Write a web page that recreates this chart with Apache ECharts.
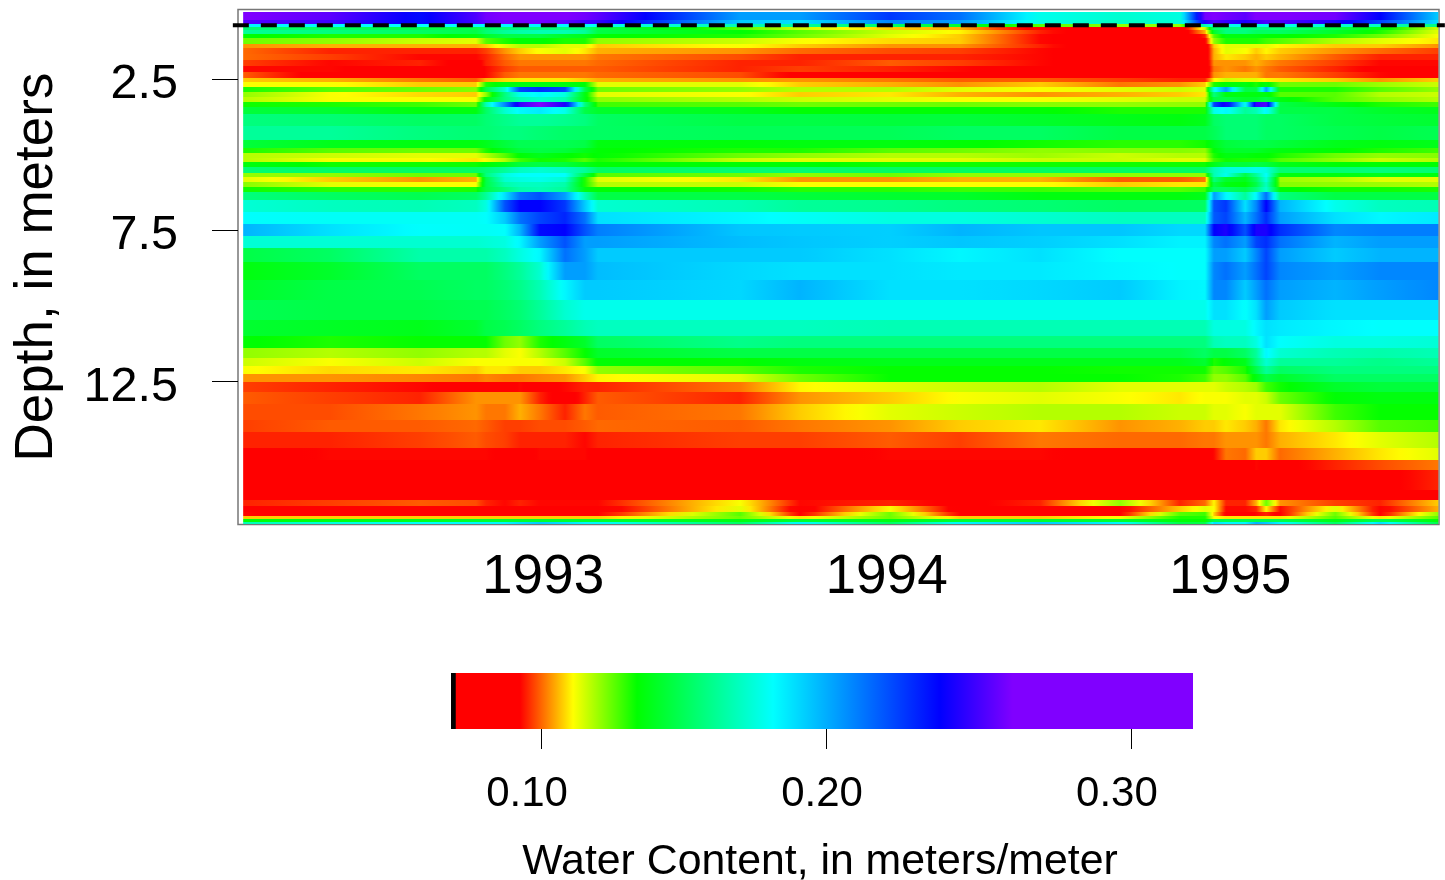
<!DOCTYPE html>
<html><head><meta charset="utf-8">
<style>html,body{margin:0;padding:0;background:#fff}#c{width:1445px;height:880px}</style>
<script src="https://cdn.jsdelivr.net/npm/echarts@6/dist/echarts.min.js"></script>
</head><body><div id="c"></div>
<script>
const yearLabels = [1993, 1994, 1995];
const depthLabels = [2.5, 7.5, 12.5];
const scaleLabels = [0.10, 0.20, 0.30];
const scaleTicks = [0.1047, 0.2014, 0.3047];
const scaleRange = [0.0742, 0.3258];
const scaleValues = [0.0742, 0.0757, 0.0758, 0.0976, 0.1156, 0.1373, 0.1834, 0.2400, 0.2647, 0.3258];
const scaleColors = ['#000000', '#000000', '#ff0000', '#ff0000', '#ffff00', '#00ff00', '#00ffff', '#0000ff', '#8000ff', '#8000ff'];
const waterTableDepth = 0.71;
const waterTableYears = [1992.097, 1995.625];
const timeNodes = [1992.127,1992.380,1992.642,1992.805,1992.834,1992.889,1992.933,1992.991,1993.064,1993.122,1993.160,1993.574,1993.748,1994.010,1994.214,1994.447,1994.680,1994.854,1994.927,1994.953,1994.988,1995.044,1995.076,1995.105,1995.146,1995.306,1995.437,1995.606];
const depthEdges = [0.27,0.54,0.67,0.77,0.87,1.00,1.13,1.33,1.46,1.66,1.86,2.06,2.26,2.46,2.59,2.75,2.92,3.09,3.25,3.42,3.65,4.04,4.51,4.77,4.94,5.10,5.23,5.40,5.60,5.73,5.90,6.06,6.23,6.49,6.89,7.29,7.68,8.08,8.54,9.14,9.80,10.46,10.99,11.39,11.72,11.98,12.25,12.51,12.84,13.24,13.77,14.16,14.69,15.09,15.42,16.08,16.41,16.61,16.81,16.94,17.04,17.14,17.21];
// water content, thousandths of a meter per meter: one row per depth band, one value per time node
const waterContent = [
[265,258,238,255,262,265,265,265,265,262,258,205,205,228,215,180,175,178,262,265,262,258,265,265,265,262,240,195],
[256,252,238,252,258,262,262,262,258,252,250,195,190,210,205,178,172,176,245,255,250,245,250,255,255,245,225,190],
[185,185,183,185,185,185,185,185,185,185,180,170,165,155,145,130,125,125,170,180,180,180,180,180,180,175,172,160],
[158,155,150,150,155,158,160,160,160,160,150,130,120,112,110,94,90,90,120,155,160,160,160,160,160,150,140,120],
[165,160,155,150,158,165,168,170,170,165,150,138,130,120,115,100,90,90,110,145,160,160,155,155,155,145,135,118],
[138,135,135,140,145,150,150,150,145,142,138,135,128,118,112,98,90,88,100,130,140,140,140,138,138,135,128,116],
[128,125,120,118,130,135,138,138,135,135,125,120,116,113,112,98,90,88,95,125,135,135,135,132,130,122,118,114],
[108,110,110,110,112,118,122,122,118,118,112,116,112,108,108,100,90,88,90,112,118,118,118,118,115,112,112,108],
[105,100,100,100,102,108,112,116,118,114,110,108,105,103,102,98,88,88,90,110,118,116,112,115,112,108,105,102],
[105,102,98,98,100,105,108,108,108,108,106,103,100,100,100,98,88,88,90,110,114,112,110,112,110,104,100,100],
[102,98,100,95,100,104,106,106,106,106,105,100,100,104,102,98,90,90,90,108,108,108,110,108,106,102,98,98],
[98,98,94,95,98,102,104,104,104,104,104,100,102,100,98,96,90,90,90,106,108,106,108,106,104,100,96,94],
[104,94,94,92,98,104,106,106,106,106,105,103,96,96,95,94,90,90,90,108,110,110,110,106,106,102,98,96],
[112,110,106,104,110,113,114,114,114,112,110,108,108,106,104,104,102,100,100,115,120,118,118,115,114,112,108,112],
[116,116,112,112,135,140,140,140,140,138,118,118,112,110,108,112,106,108,112,135,138,140,135,140,128,128,124,120],
[135,130,128,126,150,175,225,230,225,150,128,125,122,122,118,116,118,120,118,180,205,150,150,205,135,135,130,125],
[125,116,113,112,125,160,180,185,178,140,118,116,112,114,110,108,110,112,114,160,140,140,140,140,130,130,122,120],
[122,116,116,116,140,160,170,175,170,140,125,122,120,118,116,116,118,120,120,150,150,145,145,150,140,130,125,122],
[136,135,132,128,170,210,250,265,245,160,132,130,128,128,128,126,125,125,125,225,245,180,250,255,150,140,135,132],
[148,146,140,140,155,175,185,188,180,150,145,142,138,138,138,138,135,135,135,180,185,165,170,185,150,150,145,142],
[160,158,155,155,158,162,165,165,163,160,155,150,150,148,148,145,142,140,142,155,158,158,158,155,155,150,148,146],
[165,165,160,158,158,160,160,158,156,155,155,153,153,153,155,155,150,150,150,153,158,158,158,155,155,152,150,152],
[148,142,140,140,142,148,152,152,152,150,140,139,140,140,138,136,134,134,136,142,148,150,150,150,148,142,140,142],
[135,130,128,128,135,142,148,150,148,142,138,135,135,130,128,125,126,126,125,138,145,145,145,142,140,138,135,132],
[122,120,118,118,122,130,138,142,138,136,138,128,125,122,122,124,120,122,122,135,140,140,138,138,135,128,125,126],
[122,116,116,114,116,122,132,136,135,130,135,120,118,118,118,120,120,118,118,132,136,135,135,135,130,125,120,122],
[140,136,136,136,138,142,148,150,148,142,138,138,138,136,136,136,136,136,136,142,148,148,150,148,142,138,138,138],
[158,156,155,155,158,165,172,175,172,165,155,158,158,155,155,155,155,155,155,170,178,178,180,178,158,158,160,158],
[125,125,128,128,160,178,183,183,183,150,130,128,125,128,125,125,125,125,125,170,180,150,165,183,140,140,142,140],
[118,112,108,110,150,175,178,180,175,135,118,114,108,108,110,110,104,104,106,160,145,142,155,178,124,122,118,118],
[126,118,116,116,150,168,172,172,168,135,122,120,116,116,116,116,112,114,114,150,140,138,150,172,126,125,124,122],
[136,134,134,135,150,160,168,170,165,140,138,136,134,134,132,132,130,130,132,155,155,150,160,175,138,136,136,135],
[160,155,152,155,165,190,215,222,205,170,150,150,148,146,145,140,140,140,142,205,185,165,185,215,160,150,150,150],
[176,172,170,172,178,222,240,240,228,195,175,170,165,163,160,158,155,155,155,222,228,190,210,240,200,180,172,170],
[183,182,182,182,183,195,215,225,232,215,190,185,182,178,178,175,172,172,172,220,225,200,215,230,205,190,185,188],
[200,190,183,182,182,183,200,238,240,222,212,196,195,194,200,196,196,192,192,240,245,222,245,245,230,210,212,212],
[176,176,175,175,176,178,185,205,222,205,205,198,196,194,196,194,190,186,186,210,215,205,225,230,215,200,205,205],
[150,155,168,168,168,172,178,185,215,205,195,195,195,190,185,190,183,183,183,205,205,195,210,225,205,195,200,200],
[140,145,155,155,155,160,165,175,205,205,198,192,190,190,188,188,185,183,183,210,215,205,215,225,210,205,210,210],
[145,150,152,155,155,158,162,170,185,195,195,192,200,190,190,192,195,186,185,210,210,195,205,215,205,200,205,210],
[152,150,150,152,152,155,158,165,175,180,180,180,180,180,180,180,180,180,180,190,190,183,190,205,195,190,190,190],
[146,144,142,146,150,152,155,160,165,170,172,172,172,170,170,170,170,170,170,178,178,178,185,190,188,185,183,183],
[138,135,137,137,137,128,125,135,140,145,155,162,160,160,160,160,160,160,160,170,172,172,178,190,183,178,178,176],
[125,122,125,122,122,118,116,122,130,137,145,150,150,150,150,150,150,150,155,150,150,155,165,185,175,170,168,170],
[120,116,120,116,116,116,116,116,120,130,138,137,140,142,142,142,142,142,146,135,138,142,160,175,165,165,162,165],
[116,113,114,112,114,114,112,112,114,116,125,130,135,137,137,137,136,136,136,128,130,135,150,165,155,160,160,160],
[108,108,107,106,107,106,106,107,108,112,115,118,128,137,137,137,137,135,132,125,125,130,140,150,145,155,155,155],
[102,100,98,96,96,96,98,96,98,100,100,106,115,118,120,122,118,118,118,118,120,122,124,132,136,145,148,148],
[104,102,100,108,108,108,108,100,94,100,104,100,108,112,116,118,116,114,116,116,116,118,118,120,128,138,140,140],
[103,103,106,108,106,106,110,106,100,106,104,106,112,118,120,122,122,120,120,118,118,116,118,118,118,132,137,137],
[102,104,104,105,104,102,102,103,103,104,105,104,106,108,112,114,108,110,112,112,114,112,110,106,114,122,130,132],
[100,100,102,104,103,102,100,100,100,98,100,102,102,104,102,106,105,105,106,106,108,108,108,106,110,114,118,122],
[96,98,98,98,98,97,96,98,98,98,96,96,96,98,98,98,96,96,96,98,106,105,112,112,105,110,114,118],
[94,94,94,94,94,94,94,94,94,94,94,94,94,94,94,94,94,94,94,94,94,94,98,97,96,100,103,106],
[94,94,94,94,94,94,94,94,94,94,94,94,94,94,94,94,94,94,94,94,94,94,94,94,95,96,96,100],
[94,94,94,94,94,94,94,94,94,94,94,94,94,94,94,94,94,94,94,94,94,94,94,94,94,94,95,96],
[100,102,104,103,100,98,100,98,98,98,98,116,98,100,96,100,125,100,105,115,100,100,110,128,108,102,100,112],
[94,94,94,94,94,94,94,94,94,94,94,118,94,116,94,96,96,112,118,116,98,98,100,115,98,118,96,110],
[98,96,96,96,96,96,96,96,96,96,96,130,96,128,96,96,96,130,132,112,96,96,98,100,96,128,96,125],
[112,112,112,112,112,112,112,112,112,112,112,128,114,128,112,112,116,135,135,116,114,114,114,114,114,130,114,130],
[138,140,142,145,145,145,145,145,145,145,145,140,145,140,145,145,145,138,137,150,150,150,150,150,150,140,150,138],
[170,178,183,185,185,185,190,195,190,185,185,155,185,155,185,195,185,150,150,190,185,185,200,195,185,155,190,150]
];

function colorOf(v){
  if (v <= scaleValues[0]) return scaleColors[0];
  for (let i = 1; i < scaleValues.length; i++) {
    if (v <= scaleValues[i]) {
      const t = (v - scaleValues[i-1]) / (scaleValues[i] - scaleValues[i-1]);
      return echarts.color.lerp(t, [scaleColors[i-1], scaleColors[i]]);
    }
  }
  return scaleColors[scaleColors.length-1];
}
const SUB = 6;
function rowStops(row){
  const t0 = timeNodes[0], tN = timeNodes[timeNodes.length-1], stops = [];
  for (let k = 0; k < row.length - 1; k++) {
    for (let s = 0; s < SUB; s++) {
      const f = s / SUB, t = timeNodes[k] + (timeNodes[k+1]-timeNodes[k])*f;
      stops.push({offset:(t-t0)/(tN-t0), color:colorOf((row[k]+(row[k+1]-row[k])*f)/1000)});
    }
  }
  stops.push({offset:1, color:colorOf(row[row.length-1]/1000)});
  return stops;
}
const font = '"Liberation Sans", Arial, sans-serif';
const chart = echarts.init(document.getElementById('c'), null, {renderer:'canvas'});
chart.setOption({
  animation:false,
  backgroundColor:'#fff',
  grid:[
    {left:238,width:1201,top:9.5,height:515,show:true,borderColor:'#777',borderWidth:1.5,backgroundColor:'#fff',outerBoundsMode:'none'},
    {left:451,width:742,top:673,height:56,show:false,outerBoundsMode:'none'}
  ],
  xAxis:[
    {gridIndex:0,type:'value',min:1992.112,max:1995.608,
      axisLine:{show:false},axisTick:{show:false},splitLine:{show:false},
      axisLabel:{customValues:yearLabels,formatter:v=>String(v),margin:26,fontSize:55,color:'#000',fontFamily:font,hideOverlap:false}},
    {gridIndex:1,type:'value',min:scaleRange[0],max:scaleRange[1],
      name:'Water Content, in meters/meter',nameLocation:'middle',nameGap:112,
      nameTextStyle:{fontSize:42.8,color:'#000',fontFamily:font,padding:[0,4,0,0]},
      axisLine:{show:false},splitLine:{show:false},
      axisTick:{show:true,customValues:scaleTicks,length:20,lineStyle:{color:'#000',width:1}},
      axisLabel:{customValues:scaleLabels,formatter:v=>v.toFixed(2),margin:44,fontSize:42,color:'#000',fontFamily:font}}
  ],
  yAxis:[
    {gridIndex:0,type:'value',inverse:true,min:0.192,max:17.222,
      name:'Depth, in meters',nameLocation:'middle',nameGap:174,nameRotate:90,
      nameTextStyle:{fontSize:53,color:'#000',fontFamily:font},
      axisLine:{show:false},splitLine:{show:false},
      axisTick:{show:true,customValues:depthLabels,length:26,lineStyle:{color:'#000',width:1}},
      axisLabel:{customValues:depthLabels,formatter:v=>v.toFixed(1),margin:60,fontSize:48.5,color:'#000',fontFamily:font,verticalAlign:'top',lineHeight:11}},
    {gridIndex:1,type:'value',min:0,max:1,show:false}
  ],
  series:[
    {type:'custom',xAxisIndex:0,yAxisIndex:0,silent:true,clip:false,z:2,
      data:waterContent.map((r,i)=>[timeNodes[0],depthEdges[i],i]),
      renderItem(params,api){
        const i = api.value(2);
        const a = api.coord([timeNodes[0],depthEdges[i]]);
        const b = api.coord([timeNodes[timeNodes.length-1],depthEdges[i+1]]);
        const y0 = Math.round(a[1]), y1 = Math.round(b[1]);
        return {type:'rect',shape:{x:a[0],y:y0,width:b[0]-a[0],height:y1-y0},
          style:{fill:new echarts.graphic.LinearGradient(0,0,1,0,rowStops(waterContent[i]))}};
      }},
    {type:'custom',xAxisIndex:0,yAxisIndex:0,silent:true,clip:false,z:5,
      data:[[waterTableYears[0],waterTableDepth]],
      renderItem(params,api){
        const a = api.coord([waterTableYears[0],waterTableDepth]);
        const b = api.coord([waterTableYears[1],waterTableDepth]);
        return {type:'line',shape:{x1:a[0],y1:a[1],x2:b[0],y2:b[1]},
          style:{stroke:'#000',lineWidth:4,lineDash:[16,12],fill:null}};
      }},
    {type:'custom',xAxisIndex:1,yAxisIndex:1,silent:true,clip:false,z:2,
      data:[[scaleRange[0],0]],
      renderItem(params,api){
        const a = api.coord([scaleRange[0],1]), b = api.coord([scaleRange[1],0]);
        const stops = scaleValues.map((v,i)=>({offset:(v-scaleRange[0])/(scaleRange[1]-scaleRange[0]),color:scaleColors[i]}));
        return {type:'rect',shape:{x:a[0],y:a[1],width:b[0]-a[0],height:b[1]-a[1]},
          style:{fill:new echarts.graphic.LinearGradient(0,0,1,0,stops)}};
      }}
  ]
});
</script></body></html>
